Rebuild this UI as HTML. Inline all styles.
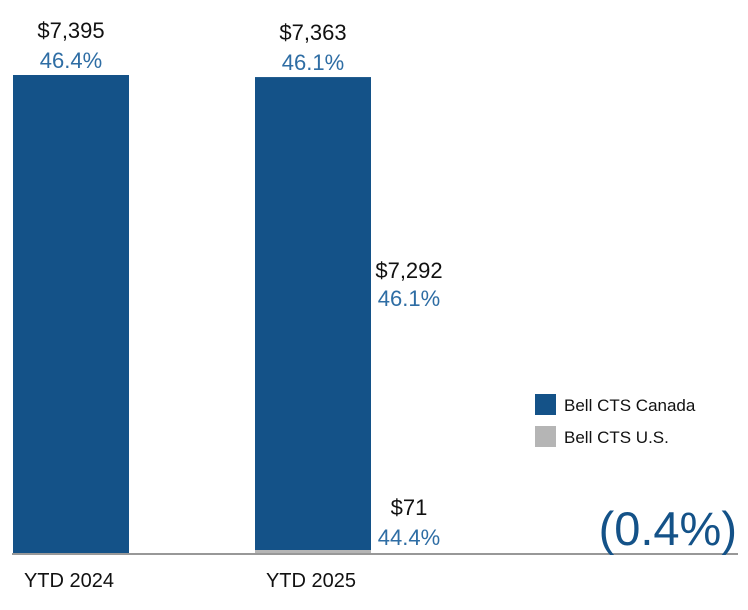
<!DOCTYPE html>
<html><head><meta charset="utf-8"><style>
body{margin:0;background:#fff;width:748px;height:605px;overflow:hidden;font-family:"Liberation Sans",sans-serif}
</style></head><body>
<svg id="chart" width="748" height="605" xmlns="http://www.w3.org/2000/svg"></svg>
<script>
const categories=["YTD 2024","YTD 2025"];
const canadaValues=[7395,7292];
const usValues=[0,71];
const totalLabels=["$7,395","$7,363"];
const totalPct=["46.4%","46.1%"];
const canadaLabel="$7,292", canadaPct="46.1%";
const usLabel="$71", usPct="44.4%";
const changeLabel="(0.4%)";
const svg=document.getElementById('chart');
const NS="http://www.w3.org/2000/svg";
const base=553, top0=75, maxV=7395;
const y=v=>base-(v/maxV)*(base-top0);
const xLeft=i=>13+i*242, bw=116;
function mk(tag,attrs,txt){const e=document.createElementNS(NS,tag);for(const k in attrs)e.setAttribute(k,attrs[k]);if(txt!=null)e.textContent=txt;svg.appendChild(e);return e;}
categories.forEach((c,i)=>{
  const tot=canadaValues[i]+usValues[i];
  const usH=usValues[i]>0?3:0;
  const r1=mk('rect',{x:xLeft(i),y:y(tot),width:bw,height:base-usH-y(tot),fill:'#145288'});
  
  
  if(usValues[i]>0){const r2=mk('rect',{x:xLeft(i),y:base-usH,width:bw,height:usH,fill:'#b5b5b5'});
  
  }
  const cx=xLeft(i)+bw/2;
  const t1=mk('text',{x:cx,y:y(tot)-37,'text-anchor':'middle','font-size':22,fill:'#111'},totalLabels[i]);
  
  
  const t2=mk('text',{x:cx,y:y(tot)-7,'text-anchor':'middle','font-size':22,fill:'#2e6da4'},totalPct[i]);
  
  
  const t3=mk('text',{x:cx-2,y:587,'text-anchor':'middle','font-size':20,fill:'#111'},c);
  
  
});
const ax=mk('line',{x1:12,x2:738,y1:554,y2:554,stroke:'#777','stroke-width':1.5});


const lx=409;
[[canadaLabel,'#111',278,'canada-value-label'],[canadaPct,'#2e6da4',306,'canada-pct-label'],[usLabel,'#111',515,'us-value-label'],[usPct,'#2e6da4',545,'us-pct-label']].forEach(a=>{
  const t=mk('text',{x:lx,y:a[2],'text-anchor':'middle','font-size':22,fill:a[1]},a[0]);
  
  
});
const legend=[["Bell CTS Canada","#145288",394],["Bell CTS U.S.","#b5b5b5",426]];
legend.forEach((l,i)=>{
  const r=mk('rect',{x:535,y:l[2],width:21,height:21,fill:l[1]});
  
  
  const t=mk('text',{x:564,y:l[2]+17,'font-size':17,fill:'#111'},l[0]);
  
  
});
const ch=mk('text',{x:737,y:545,'text-anchor':'end','font-size':47,fill:'#145288'},changeLabel);


</script>
</body></html>
